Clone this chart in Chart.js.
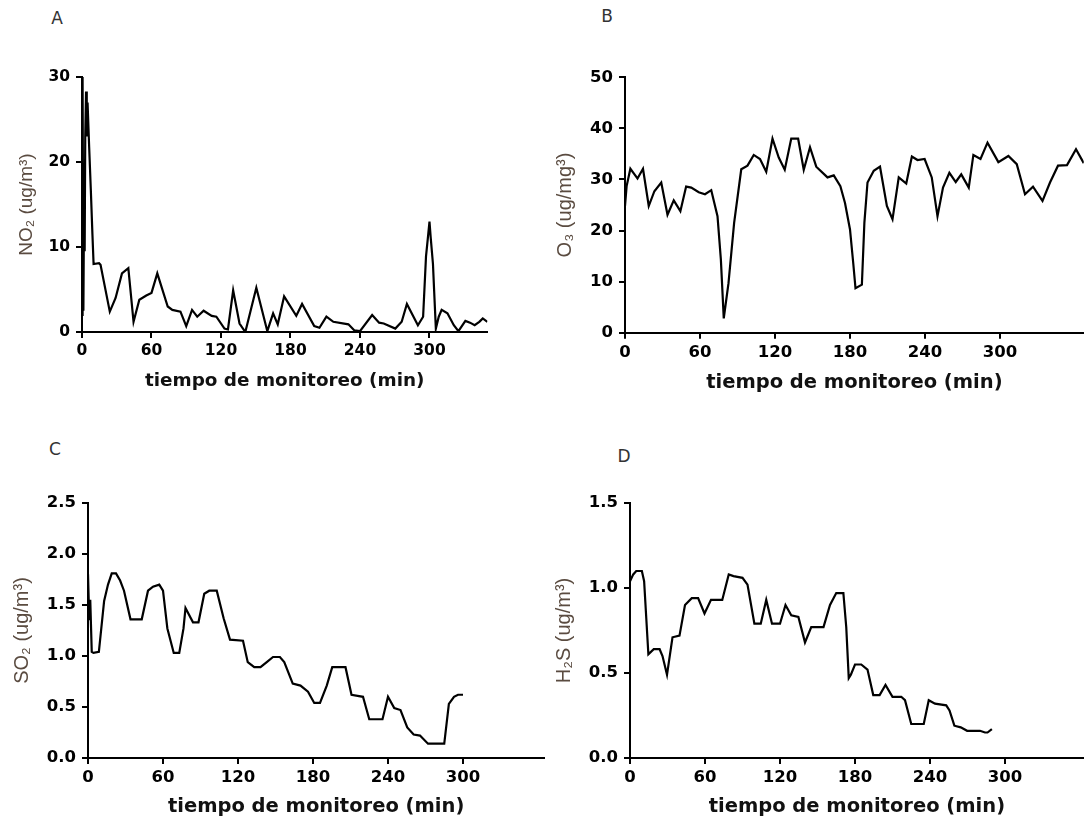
<!DOCTYPE html>
<html>
<head>
<meta charset="utf-8">
<title>Monitoreo de gases</title>
<script src="https://cdn.jsdelivr.net/npm/chart.js@4.4.1/dist/chart.umd.min.js"></script>
<style>
    body { margin: 0; width: 1084px; height: 821px; overflow: hidden; background: #fff; position: relative; }
    canvas { position: absolute; }
    .tag { position: absolute; font: 17px "DejaVu Sans", sans-serif; color: #333; transform: translate(-50%, -50%); }
</style>
</head>
<body>
<div class="tag" style="left:57px; top:18px">A</div>
<div class="tag" style="left:607px; top:16px">B</div>
<div class="tag" style="left:55px; top:449px">C</div>
<div class="tag" style="left:624px; top:456px">D</div>

<canvas id="chartA" width="540" height="400" style="left:0; top:0"></canvas>
<canvas id="chartB" width="560" height="400" style="left:540px; top:0"></canvas>
<canvas id="chartC" width="560" height="401" style="left:0; top:420px"></canvas>
<canvas id="chartD" width="560" height="401" style="left:540px; top:420px"></canvas>

<script>
// tiempo de monitoreo (min) y concentraciones
const no2Time = [0, 0.5, 1.2, 1.8, 2.3, 2.8, 3.5, 4.1, 4.8, 6.2, 7.6, 9, 10, 14.7, 16, 24, 29, 34.5, 40, 44.5, 49.5, 55.5, 60, 65, 74, 78, 85, 90, 95, 99.5, 105, 112, 116, 123, 126, 130.5, 136, 141, 150.5, 160, 165, 169, 174.5, 185, 190, 200.5, 205, 211, 217, 230, 235, 240, 250.5, 256.5, 260.5, 270.5, 276, 280.5, 290, 294.5, 297, 299, 300, 301, 303, 304, 305.5, 308, 310.5, 315.5, 321, 325, 331, 335, 339, 343, 346, 350];
const no2Values = [2, 30, 2.5, 16, 9.5, 23, 28.3, 23, 27, 21.7, 16.8, 11.5, 8, 8.1, 7.9, 2.4, 4, 6.9, 7.5, 1.2, 3.8, 4.3, 4.6, 6.9, 3, 2.6, 2.4, 0.7, 2.6, 1.8, 2.5, 1.9, 1.8, 0.4, 0.3, 4.9, 1, 0, 5.2, 0.1, 2.2, 0.9, 4.2, 1.9, 3.3, 0.7, 0.5, 1.8, 1.2, 0.9, 0.2, 0.1, 2, 1.1, 1, 0.4, 1.2, 3.3, 0.8, 1.8, 8.9, 11.6, 13, 11.2, 8, 4.9, 0.4, 1.8, 2.6, 2.2, 0.8, 0.1, 1.3, 1.1, 0.8, 1.2, 1.6, 1.2];

const o3Time = [0, 1.3, 4.3, 7.6, 10, 14.4, 19, 23.5, 29, 34, 39, 44.3, 48.9, 53, 59, 64, 69, 74, 76.7, 79, 82.8, 87.3, 93, 98, 103, 108, 113, 118, 123, 127.8, 133, 138.5, 143, 148, 153, 162, 167, 172.3, 176, 180, 182.6, 184.4, 189.5, 191.5, 194, 199, 204, 209.5, 214, 219, 225, 229.5, 234, 239.7, 245.4, 250, 254.4, 259.5, 264.6, 269, 275, 278.7, 284.4, 290, 298.7, 306.7, 313.4, 320, 326.4, 334, 340, 346.4, 353.6, 360.8, 367];
const o3Values = [24.8, 28.7, 32.1, 31, 30.2, 32.1, 24.8, 27.7, 29.4, 23.1, 25.9, 23.8, 28.6, 28.4, 27.5, 27.1, 27.9, 22.8, 14.3, 2.8, 9.7, 21.5, 32, 32.7, 34.8, 34, 31.5, 38, 34.3, 31.9, 38, 38, 31.9, 36.3, 32.5, 30.4, 30.8, 28.7, 25.4, 20.2, 13.6, 8.7, 9.4, 21.5, 29.4, 31.7, 32.5, 24.8, 22.2, 30.4, 29.2, 34.5, 33.8, 34, 30.4, 22.8, 28.4, 31.3, 29.5, 31, 28.4, 34.8, 34, 37.2, 33.4, 34.6, 33, 27.1, 28.6, 25.8, 29.4, 32.7, 32.8, 35.9, 33.2];

const so2Time = [0, 1, 1.8, 3, 4.4, 8.7, 12.9, 16, 19, 22.4, 25.7, 28.8, 34, 43, 48, 52, 57, 60, 63.5, 68.6, 73, 76.4, 78, 84, 88.4, 93, 97, 103, 108.5, 113.6, 124, 127.8, 133, 138, 143, 148, 153.5, 157, 163.8, 170, 176, 181, 185.6, 191, 195.4, 206, 210.8, 220, 225, 235.6, 240, 245, 250, 255.4, 260.5, 265.6, 272, 285, 288.7, 292.8, 296, 300];
const so2Values = [1.8, 1.35, 1.55, 1.04, 1.03, 1.04, 1.54, 1.7, 1.81, 1.81, 1.74, 1.64, 1.36, 1.36, 1.64, 1.68, 1.7, 1.64, 1.27, 1.03, 1.03, 1.27, 1.47, 1.33, 1.33, 1.61, 1.64, 1.64, 1.37, 1.16, 1.15, 0.94, 0.89, 0.89, 0.94, 0.99, 0.99, 0.94, 0.73, 0.71, 0.65, 0.54, 0.54, 0.71, 0.89, 0.89, 0.62, 0.6, 0.38, 0.38, 0.6, 0.49, 0.47, 0.3, 0.23, 0.22, 0.14, 0.14, 0.53, 0.6, 0.62, 0.62];

const h2sTime = [0, 2.6, 5, 9.5, 11.3, 14.7, 19, 23.7, 26, 29.6, 34, 39.6, 44, 49.4, 54.5, 59.6, 64.8, 73.8, 79, 82.8, 90, 94, 99.5, 104.6, 109, 113.6, 120, 124.4, 129, 134.7, 140, 145, 154.8, 160, 165, 170.7, 173, 175, 176.7, 180, 185, 190, 194.6, 199.7, 204.4, 210, 217, 220, 225, 235, 239, 244, 253, 255.6, 259.5, 264.6, 269.7, 280, 284, 286, 289.5];
const h2sValues = [1.04, 1.08, 1.1, 1.1, 1.04, 0.61, 0.64, 0.64, 0.6, 0.49, 0.71, 0.72, 0.9, 0.94, 0.94, 0.85, 0.93, 0.93, 1.08, 1.07, 1.06, 1.02, 0.79, 0.79, 0.93, 0.79, 0.79, 0.9, 0.84, 0.83, 0.68, 0.77, 0.77, 0.9, 0.97, 0.97, 0.77, 0.47, 0.49, 0.55, 0.55, 0.52, 0.37, 0.37, 0.43, 0.36, 0.36, 0.34, 0.2, 0.2, 0.34, 0.32, 0.31, 0.28, 0.19, 0.18, 0.16, 0.16, 0.15, 0.15, 0.17];

const timeTicks = [0, 60, 120, 180, 240, 300];
const no2Ticks = [0, 10, 20, 30];
const o3Ticks = [0, 10, 20, 30, 40, 50];
const so2Ticks = [0, 0.5, 1.0, 1.5, 2.0, 2.5];
const h2sTicks = [0, 0.5, 1.0, 1.5];

const X_TITLE = 'tiempo de monitoreo (min)';
const SANS = '"DejaVu Sans", sans-serif';

function drawPanel(id, box, times, values, yTicks, yTitle, digits) {
    const canvas = document.getElementById(id);
    const points = times.map((t, i) => ({ x: t, y: values[i] }));
    const padLeft = box.titleX - box.ySize * 1.2 / 2;
    const xAxisHeight = box.titleGap + box.xSize * 1.2 / 2;
    const axisLine = { display: true, color: '#000', width: 2 };
    const tickMarks = { display: true, drawOnChartArea: false, drawTicks: true, tickLength: 6, color: '#000', lineWidth: 2 };
    const tickFont = { family: SANS, size: box.tickSize, weight: 'bold' };

    new Chart(canvas.getContext('2d'), {
        type: 'line',
        data: {
            datasets: [{
                data: points,
                borderColor: '#000',
                borderWidth: 2.2,
                pointRadius: 0,
                tension: 0,
                fill: false
            }]
        },
        options: {
            responsive: false,
            animation: false,
            layout: {
                padding: {
                    left: padLeft,
                    top: box.top,
                    right: canvas.width - box.right,
                    bottom: canvas.height - box.bottom - xAxisHeight
                }
            },
            plugins: { legend: { display: false }, tooltip: { enabled: false } },
            scales: {
                x: {
                    type: 'linear',
                    min: 0,
                    max: box.xMax,
                    afterBuildTicks: s => { s.ticks = timeTicks.map(v => ({ value: v })); },
                    afterFit: s => { s.height = xAxisHeight; },
                    ticks: { color: '#000', font: tickFont, padding: 4, maxRotation: 0, callback: v => String(v) },
                    grid: tickMarks,
                    border: axisLine,
                    title: {
                        display: true,
                        text: X_TITLE,
                        color: '#111',
                        padding: 0,
                        font: { family: SANS, size: box.xSize, weight: 'bold' }
                    }
                },
                y: {
                    min: 0,
                    max: yTicks[yTicks.length - 1],
                    afterBuildTicks: s => { s.ticks = yTicks.map(v => ({ value: v })); },
                    afterFit: s => { s.width = box.left - padLeft; },
                    ticks: { color: '#000', font: tickFont, padding: 6, callback: v => v.toFixed(digits) },
                    grid: tickMarks,
                    border: axisLine,
                    title: {
                        display: true,
                        text: yTitle,
                        color: '#5a4b40',
                        padding: 0,
                        font: { family: '"Liberation Sans", Arial, sans-serif', size: box.ySize }
                    }
                }
            }
        }
    });
}

document.addEventListener('DOMContentLoaded', function () {
    drawPanel('chartA', { left: 82, top: 77, right: 487.4, bottom: 332, xMax: 350, titleX: 27, titleGap: 49, tickSize: 15.5, xSize: 18.4, ySize: 19 },
        no2Time, no2Values, no2Ticks, 'NO\u2082 (ug/m\u00b3)', 0);
    drawPanel('chartB', { left: 85, top: 77.3, right: 543.75, bottom: 332.7, xMax: 367, titleX: 25, titleGap: 50, tickSize: 16.5, xSize: 19.5, ySize: 20 },
        o3Time, o3Values, o3Ticks, 'O\u2083 (ug/mg\u00b3)', 0);
    drawPanel('chartC', { left: 88, top: 83, right: 544.25, bottom: 338, xMax: 365, titleX: 22, titleGap: 49, tickSize: 16.5, xSize: 19.5, ySize: 20 },
        so2Time, so2Values, so2Ticks, 'SO\u2082 (ug/m\u00b3)', 1);
    drawPanel('chartD', { left: 90, top: 83, right: 543.75, bottom: 338, xMax: 363, titleX: 24, titleGap: 49, tickSize: 16.5, xSize: 19.5, ySize: 20 },
        h2sTime, h2sValues, h2sTicks, 'H\u2082S (ug/m\u00b3)', 1);
});
</script>
</body>
</html>
